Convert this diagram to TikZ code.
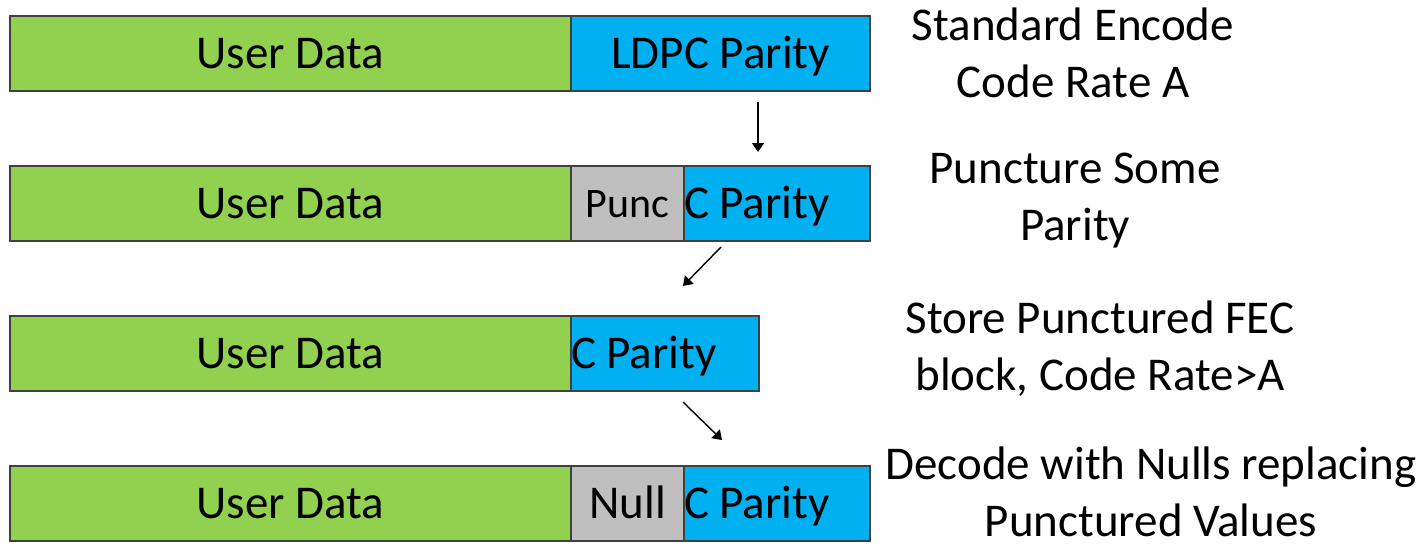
\documentclass[tikz,border=0pt]{standalone}
\usepackage{fontspec}
\setmainfont{Carlito}
\usepackage{xcolor}
\usepackage{tikz}
\usetikzlibrary{arrows.meta, positioning}

\definecolor{datagreen}{HTML}{92D050}
\definecolor{paritycyan}{HTML}{00B0F0}
\definecolor{puncgray}{HTML}{BFBFBF}

\begin{document}
\begin{tikzpicture}[x=0.5pt, y=-0.5pt, >={Triangle[length=4.5pt, width=6pt]},
  block/.style={draw=black!75, line width=1pt, minimum height=37.5pt,
    inner sep=0pt, outer sep=0pt, text height=15pt, text depth=0pt,
    font=\fontsize{23.5}{28}\selectfont},
  userdata/.style={block, fill=datagreen, minimum width=280.5pt},
  parity/.style={block, fill=paritycyan},
  puncbox/.style={block, fill=puncgray, minimum width=56.5pt},
  note/.style={align=center, inner sep=0pt, anchor=base,
    font=\fontsize{23.5}{28.5}\selectfont},
  step arrow/.style={->, line width=0.7pt}]

\useasboundingbox (0,0) rectangle (1425,547);

% Define nodes
\node[userdata, anchor=north west] (ud1) at (10,16) {User Data};
\node[parity, minimum width=149.5pt, right=0pt of ud1] (par1) {LDPC Parity};

\node[userdata, below=37.5pt of ud1] (ud2) {User Data};
\node[puncbox, right=0pt of ud2, font=\fontsize{21}{25}\selectfont, text height=13.5pt] (punc2) {Punc};
\node[parity, minimum width=93pt, text width=93pt, align=flush left, right=0pt of punc2] (par2) {C Parity};

\node[userdata, below=37.5pt of ud2] (ud3) {User Data};
\node[parity, minimum width=94pt, text width=94pt, align=flush left, right=0pt of ud3] (par3) {C Parity};

\node[userdata, below=37.5pt of ud3] (ud4) {User Data};
\node[puncbox, right=0pt of ud4] (null4) {Null};
\node[parity, minimum width=93pt, text width=93pt, align=flush left, right=0pt of null4] (par4) {C Parity};

% Arrow ends
\coordinate (a1s) at (758,102);
\coordinate (a1e) at (758,152);
\coordinate (a2s) at (721,247);
\coordinate (a2e) at (683,286);
\coordinate (a3s) at (683,402);
\coordinate (a3e) at (722,440);

% Steps
\draw[step arrow] (a1s) -- (a1e);
\draw[step arrow] (a2s) -- (a2e);
\draw[step arrow] (a3s) -- (a3e);

% Labels (anchored on the last line)
\node[note] (note1) at (1073,97) {Standard Encode\\Code Rate A};
\node[note] (note2) at (1075,240) {Puncture Some\\Parity};
\node[note] (note3) at (1100,390) {Store Punctured FEC\\block, Code Rate>A};
\node[note] (note4) at (1151,536) {Decode with Nulls replacing\\Punctured Values};

\end{tikzpicture}
\end{document}
